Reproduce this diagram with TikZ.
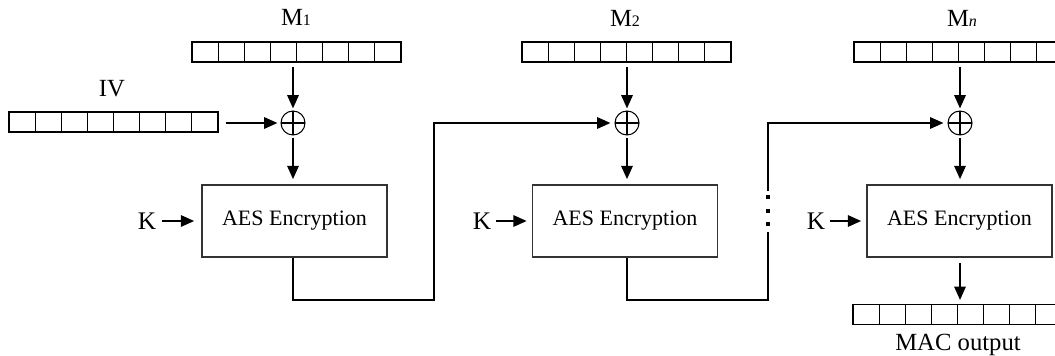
\documentclass[tikz,border=0pt]{standalone}
\usepackage{fontspec}
\setmainfont{Liberation Serif}
\usetikzlibrary{arrows.meta,calc}
\begin{document}
\begin{tikzpicture}[x=0.75pt,y=-0.75pt,
 register/.style={draw, line width=0.8pt, minimum width=156.75pt, minimum height=15pt, inner sep=0pt,
   path picture={\foreach \i in {1,...,7}{\draw[line width=0.8pt] ($(path picture bounding box.north west)!\i/8!(path picture bounding box.north east)$) -- ($(path picture bounding box.south west)!\i/8!(path picture bounding box.south east)$);}}},
 xorop/.style={circle, draw, line width=0.8pt, minimum size=18pt, inner sep=0pt,
   path picture={\draw[line width=0.8pt] (path picture bounding box.north) -- (path picture bounding box.south) (path picture bounding box.west) -- (path picture bounding box.east);}},
 aes/.style={draw=black!80, line width=1.2pt, minimum width=138.75pt, minimum height=54pt, inner sep=0pt, font=\fontsize{16.5}{19}\selectfont},
 lbl/.style={font=\fontsize{18.5}{21}\selectfont, inner sep=0pt, anchor=base},
 klbl/.style={font=\fontsize{19}{22}\selectfont, inner sep=0pt, anchor=base},
 arr/.style={line width=1.5pt, -{Triangle[length=10pt,width=8.5pt]}},
 fb/.style={line width=1.5pt},
 dot/.style={fill=black, inner sep=0pt, minimum size=2.6pt, rectangle},
]
\useasboundingbox (0,0) rectangle (1055,356);

% labels
\node[lbl] (lm1) at (296,26) {M{\fontsize{12}{12}\selectfont 1}};
\node[lbl] (lm2) at (625,27) {M{\fontsize{12}{12}\selectfont 2}};
\node[lbl] (lmn) at (962,27) {M{\fontsize{12}{12}\selectfont\itshape n}};
\node[lbl] (liv) at (112,97) {IV};

% registers
\node[register] (r1) at (296.5,52) {};
\node[register] (r2) at (626.5,52) {};
\node[register] (r3) at (958.5,52) {};
\node[register] (riv) at (113.5,122) {};
\node[register] (mac) at (957.5,314.5) {};
\node[font=\fontsize{18.5}{21}\selectfont, inner sep=0pt, anchor=base] (lmac) at (958,350) {MAC output};

% xors
\node[xorop] (x1) at (293,123) {};
\node[xorop] (x2) at (627,123) {};
\node[xorop] (x3) at (960,123) {};

% AES boxes
\node[aes] (e1) at (294.5,221) {AES Encryption};
\node[aes] (e2) at (625,221) {AES Encryption};
\node[aes] (e3) at (959.5,221) {AES Encryption};

% keys
\node[klbl] (k1) at (147,229) {K};
\node[klbl] (k2) at (482,229) {K};
\node[klbl] (k3) at (816,229) {K};

% arrows
\draw[arr] ($(r1.south -| x1)+(0,4)$) -- ($(x1.north)+(0,-2)$);
\draw[arr] ($(r2.south -| x2)+(0,4)$) -- ($(x2.north)+(0,-2)$);
\draw[arr] ($(r3.south -| x3)+(0,4)$) -- ($(x3.north)+(0,-2)$);
\draw[arr] ($(riv.east |- x1)+(7,0)$) -- ($(x1.west)+(-3,0)$);
\draw[arr] ($(x1.south)+(0,2)$) -- ($(e1.north -| x1)+(0,-5)$);
\draw[arr] ($(x2.south)+(0,2)$) -- ($(e2.north -| x2)+(0,-5)$);
\draw[arr] ($(x3.south)+(0,2)$) -- ($(e3.north -| x3)+(0,-5)$);
\draw[arr] ($(k1.east |- e1.west)+(6,0)$) -- ($(e1.west)+(-7,0)$);
\draw[arr] ($(k2.east |- e2.west)+(5,0)$) -- ($(e2.west)+(-5,0)$);
\draw[arr] ($(k3.east |- e3.west)+(5,0)$) -- ($(e3.west)+(-5,0)$);
\draw[arr] ($(e3.south -| x3)+(0,5)$) -- ($(mac.north -| x3)+(0,-4)$);

% feedback 1
\coordinate (c1) at (434,300);
\draw[fb] (e1.south -| x1) -- (x1 |- c1) -- (c1) -- (c1 |- x2);
\draw[arr] ($(c1 |- x2)+(-0.75,0)$) -- ($(x2.west)+(-4,0)$);

% feedback 2 with dots
\coordinate (c2) at (768,300);
\coordinate (g1) at (768,232);
\coordinate (g2) at (768,191);
\draw[fb] (e2.south -| x2) -- (x2 |- c2) -- (c2) -- (g1);
\node[dot] (d1) at (768,197) {};
\node[dot] (d2) at (768,211) {};
\node[dot] (d3) at (768,224) {};
\draw[fb] (g2) -- (g2 |- x3);
\draw[arr] ($(g2 |- x3)+(-0.75,0)$) -- ($(x3.west)+(-4,0)$);
\end{tikzpicture}
\end{document}
